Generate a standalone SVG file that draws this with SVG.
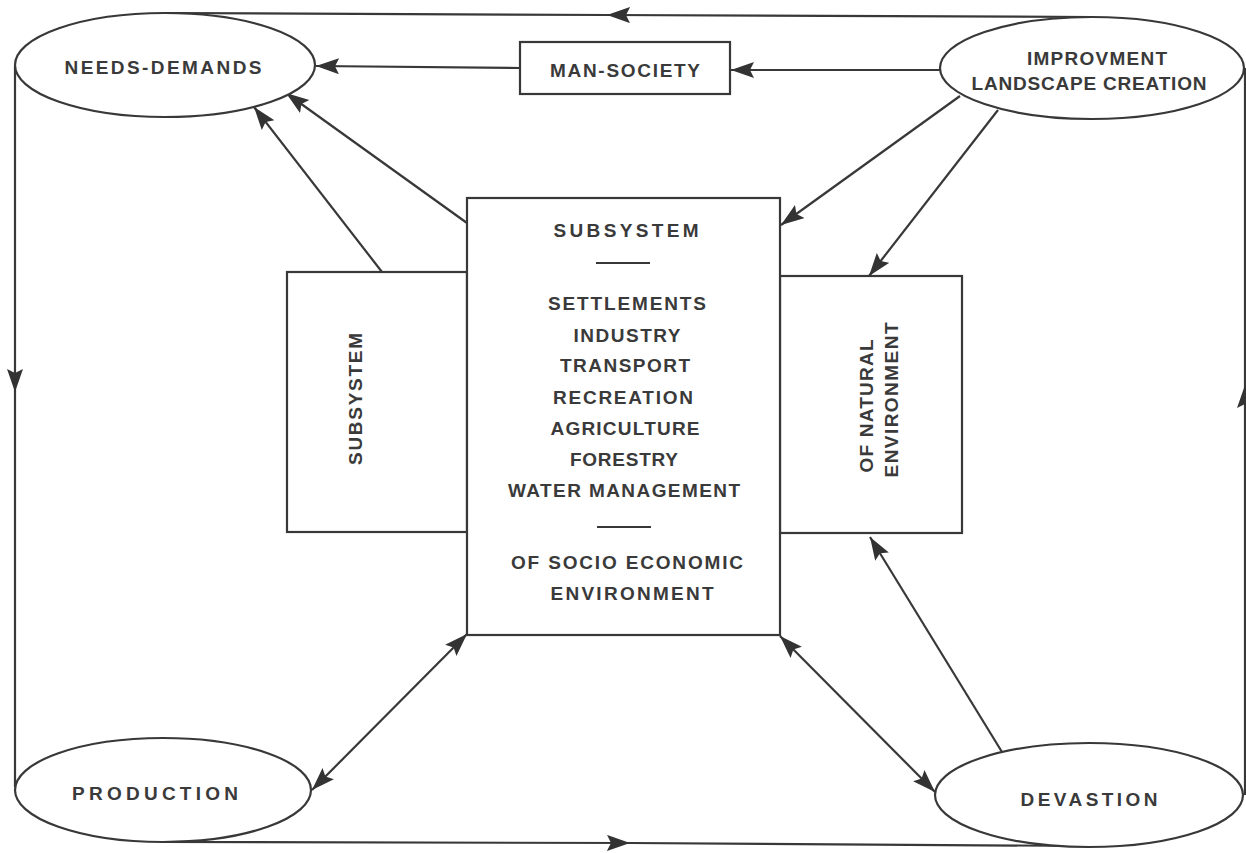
<svg xmlns="http://www.w3.org/2000/svg" width="1246" height="853" viewBox="0 0 1246 853">
<defs>
<style>
.s{fill:none;stroke:#383838;stroke-width:2.2}
.b{fill:#fff;stroke:#383838;stroke-width:2.2}
.t{font-family:"Liberation Sans",Arial,sans-serif;font-weight:bold;font-size:19px;fill:#3a3a3a;text-anchor:middle}
.a{marker-end:url(#ah)}
.d{marker-start:url(#ah2);marker-end:url(#ah)}
.m{marker-mid:url(#ah)}
</style>
<marker id="ah" markerUnits="userSpaceOnUse" markerWidth="26" markerHeight="18" refX="23" refY="8" orient="auto" viewBox="0 0 26 18">
<path d="M0,0 L23,8 L0,16 L4,8 z" fill="#333"/>
</marker>
<marker id="ah2" markerUnits="userSpaceOnUse" markerWidth="26" markerHeight="18" refX="23" refY="8" orient="auto-start-reverse" viewBox="0 0 26 18">
<path d="M0,0 L23,8 L0,16 L4,8 z" fill="#333"/>
</marker>
</defs>
<rect width="1246" height="853" fill="#fff"/>
<g id="connectors">
<path class="s m" d="M1092,17 L607,15 L165,13"/>
<path class="s m" d="M15,66 L15,392 L15,787"/>
<path class="s m" d="M163,842 L630,843 L1089,846"/>
<path class="s m" d="M1245,795 L1245,385 L1245,68"/>
<path class="s a" d="M382,272 L254,107"/>
<path class="s a" d="M467,223 L286,93"/>
<path class="s a" d="M520,68 L316,66"/>
<path class="s a" d="M940,70 L731,70"/>
<path class="s a" d="M960,96 L781,225"/>
<path class="s a" d="M998,110 L869,276"/>
<path class="s a" d="M1002,752 L870,537"/>
<path class="s d" d="M467,634 L312,790"/>
<path class="s d" d="M780,636 L935,792"/>
</g>
<g id="needs-demands">
<ellipse class="b" cx="165" cy="65" rx="150" ry="52"/>
<text class="t" x="163" y="74" textLength="197" lengthAdjust="spacing">NEEDS-DEMANDS</text>
</g>
<g id="man-society">
<rect class="b" x="520" y="42" width="210" height="52"/>
<text class="t" x="625" y="77" textLength="150" lengthAdjust="spacing">MAN-SOCIETY</text>
</g>
<g id="improvement">
<ellipse class="b" cx="1092" cy="68" rx="152" ry="51"/>
<text class="t" x="1097" y="65" textLength="140" lengthAdjust="spacing">IMPROVMENT</text>
<text class="t" x="1089" y="90" textLength="235" lengthAdjust="spacing">LANDSCAPE CREATION</text>
</g>
<g id="subsystem-left">
<rect class="b" x="287" y="272" width="180" height="260"/>
<text class="t" transform="translate(362,399) rotate(-90)" textLength="132" lengthAdjust="spacing">SUBSYSTEM</text>
</g>
<g id="natural-environment">
<rect class="b" x="780" y="276" width="182" height="257"/>
<text class="t" transform="translate(873,406) rotate(-90)" textLength="133" lengthAdjust="spacing">OF NATURAL</text>
<text class="t" transform="translate(898,400) rotate(-90)" textLength="155" lengthAdjust="spacing">ENVIRONMENT</text>
</g>
<g id="subsystem-central">
<rect class="b" x="467" y="198" width="313" height="437"/>
<text class="t" x="626" y="237" textLength="145" lengthAdjust="spacing">SUBSYSTEM</text>
<line class="s" x1="596" y1="263" x2="650" y2="263" stroke-width="1.5"/>
<text class="t" x="627" y="310" textLength="158" lengthAdjust="spacing">SETTLEMENTS</text>
<text class="t" x="627" y="342" textLength="107" lengthAdjust="spacing">INDUSTRY</text>
<text class="t" x="625" y="372" textLength="130" lengthAdjust="spacing">TRANSPORT</text>
<text class="t" x="623" y="404" textLength="140" lengthAdjust="spacing">RECREATION</text>
<text class="t" x="625" y="435" textLength="149" lengthAdjust="spacing">AGRICULTURE</text>
<text class="t" x="624" y="466" textLength="108" lengthAdjust="spacing">FORESTRY</text>
<text class="t" x="624" y="497" textLength="232" lengthAdjust="spacing">WATER  MANAGEMENT</text>
<line class="s" x1="597" y1="527" x2="651" y2="527" stroke-width="1.5"/>
<text class="t" x="627" y="569" textLength="232" lengthAdjust="spacing">OF SOCIO ECONOMIC</text>
<text class="t" x="632" y="600" textLength="163" lengthAdjust="spacing">ENVIRONMENT</text>
</g>
<g id="production">
<ellipse class="b" cx="163" cy="790" rx="148" ry="52"/>
<text class="t" x="155" y="800" textLength="166" lengthAdjust="spacing">PRODUCTION</text>
</g>
<g id="devastion">
<ellipse class="b" cx="1089" cy="795" rx="154" ry="52"/>
<text class="t" x="1089" y="806" textLength="137" lengthAdjust="spacing">DEVASTION</text>
</g>
</svg>
